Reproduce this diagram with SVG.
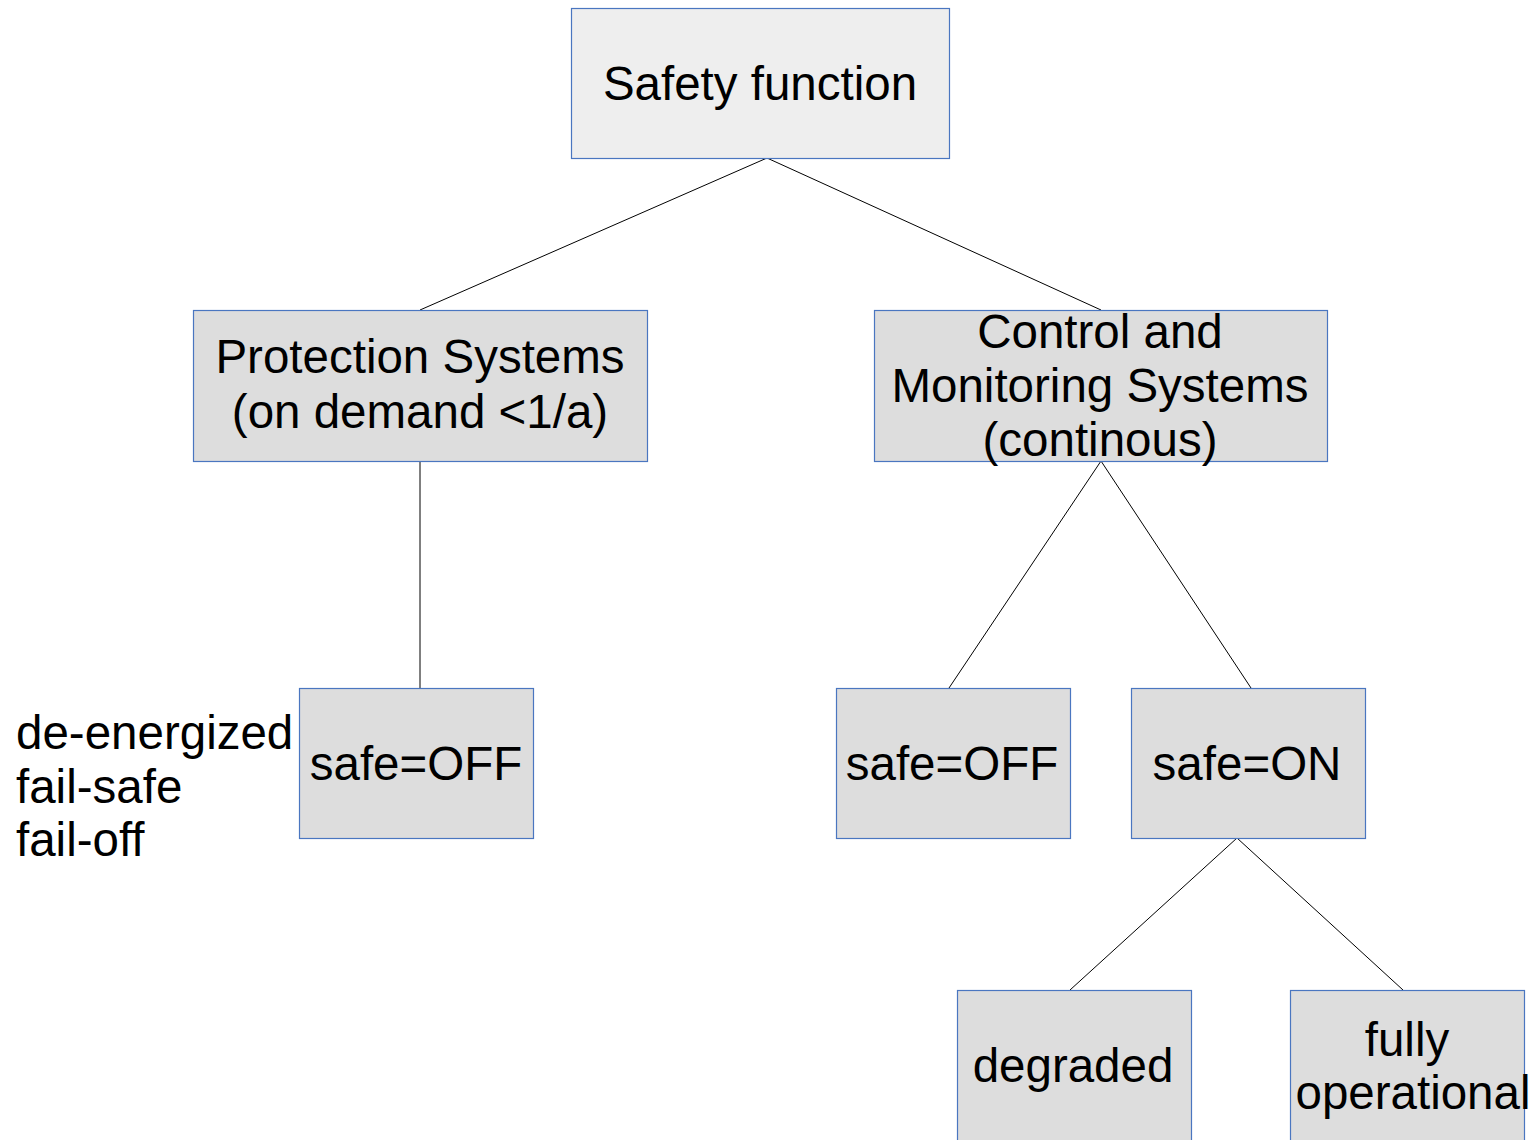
<svg xmlns="http://www.w3.org/2000/svg" width="1536" height="1140" viewBox="0 0 1536 1140">
<style>
.box{stroke:#4a76c0;stroke-width:1.2}
.top{fill:#eeeeee}
.mid{fill:#dddddd}
text{font-family:"Liberation Sans",Arial,sans-serif;font-size:47.5px;fill:#000}
.c{text-anchor:middle}
.conn line{stroke:#000;stroke-width:1}
</style>
<rect width="1536" height="1140" fill="#fff"/>
<g id="connectors" class="conn">
<line x1="767" y1="158" x2="420" y2="310"/>
<line x1="767" y1="158" x2="1101" y2="310"/>
<line x1="420" y1="461" x2="420" y2="688"/>
<line x1="1101" y1="461" x2="949" y2="688"/>
<line x1="1101" y1="461" x2="1251" y2="688"/>
<line x1="1237" y1="838" x2="1070" y2="990"/>
<line x1="1237" y1="838" x2="1403" y2="990"/>
</g>
<g id="safety-function">
<rect class="box top" x="571.5" y="8.5" width="378" height="150"/>
<text class="c" x="760" y="100">Safety function</text>
</g>
<g id="protection">
<rect class="box mid" x="193.5" y="310.5" width="454" height="151"/>
<text class="c" x="420" y="373">Protection Systems</text>
<text class="c" x="420" y="428">(on demand &lt;1/a)</text>
</g>
<g id="control">
<rect class="box mid" x="874.5" y="310.5" width="453" height="151"/>
<text class="c" x="1100" y="348">Control and</text>
<text class="c" x="1100" y="402">Monitoring Systems</text>
<text class="c" x="1100" y="456">(continous)</text>
</g>
<g id="left-note">
<text x="16" y="749">de-energized</text>
<text x="16" y="803">fail-safe</text>
<text x="16" y="856">fail-off</text>
</g>
<g id="safe-off-left">
<rect class="box mid" x="299.5" y="688.5" width="234" height="150"/>
<text class="c" x="416" y="780">safe=OFF</text>
</g>
<g id="safe-off-right">
<rect class="box mid" x="836.5" y="688.5" width="234" height="150"/>
<text class="c" x="952" y="780">safe=OFF</text>
</g>
<g id="safe-on">
<rect class="box mid" x="1131.5" y="688.5" width="234" height="150"/>
<text class="c" x="1247" y="780">safe=ON</text>
</g>
<g id="degraded">
<rect class="box mid" x="957.5" y="990.5" width="234" height="160"/>
<text class="c" x="1073" y="1082">degraded</text>
</g>
<g id="fully-operational">
<rect class="box mid" x="1290.5" y="990.5" width="234" height="160"/>
<text class="c" x="1407" y="1056">fully</text>
<text class="c" x="1413" y="1109">operational</text>
</g>
</svg>
